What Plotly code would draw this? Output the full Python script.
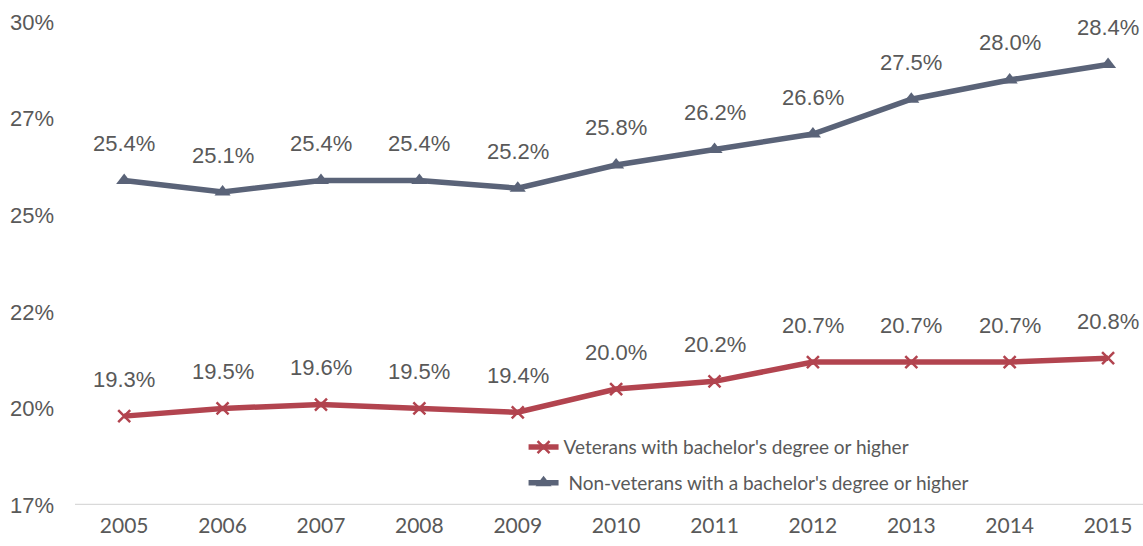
import plotly.graph_objects as go

years = [2005, 2006, 2007, 2008, 2009, 2010, 2011, 2012, 2013, 2014, 2015]
veterans = [19.3, 19.5, 19.6, 19.5, 19.4, 20.0, 20.2, 20.7, 20.7, 20.7, 20.8]
non_veterans = [25.4, 25.1, 25.4, 25.4, 25.2, 25.8, 26.2, 26.6, 27.5, 28.0, 28.4]
y_tickvals = [17, 19.5, 22, 24.5, 27, 29.5]
y_ticktext = ["17%", "20%", "22%", "25%", "27%", "30%"]

RED = "#B2444F"
NAVY = "#5A6378"
TXT = "#595959"

fig = go.Figure()
fig.add_trace(go.Scatter(
    x=years, y=veterans, mode="lines+markers",
    name="Veterans with bachelor's degree or higher", legendgroup="a",
    line=dict(color=RED, width=5.5),
    marker=dict(symbol="x-thin", size=12, line=dict(color=RED, width=2.5), color=RED),
))
fig.add_trace(go.Scatter(
    x=years, y=non_veterans, mode="lines+markers",
    name=" Non-veterans with a bachelor's degree or higher", legendgroup="b",
    line=dict(color=NAVY, width=5.5),
    marker=dict(symbol="triangle-up", size=14, color=NAVY),
))

for series in (veterans, non_veterans):
    for xv, yv in zip(years, series):
        fig.add_annotation(x=xv, y=yv, text=f"{yv:.1f}%", showarrow=False,
                           yshift=37, font=dict(family="Liberation Sans, Arial", size=22, color=TXT))

fig.update_layout(
    width=1143, height=546,
    margin=dict(l=75, r=0, t=22, b=41, autoexpand=False),
    paper_bgcolor="white", plot_bgcolor="white",
    showlegend=True,
    legend=dict(x=0.42, y=0.159, xanchor="left", yanchor="top",
                bgcolor="rgba(0,0,0,0)", font=dict(family="Lato", size=19, color=TXT),
                traceorder="grouped", tracegroupgap=8),
    xaxis=dict(range=[2004.5, 2015.355], tickmode="array", tickvals=years,
               showgrid=False, zeroline=False, showline=False, ticks="", automargin=False,
               ticklabelstandoff=6,
               tickfont=dict(family="Lato", size=21, color=TXT)),
    yaxis=dict(range=[17, 29.5], tickmode="array", tickvals=y_tickvals, ticktext=y_ticktext,
               showgrid=False, zeroline=False, showline=False, ticks="", automargin=False,
               ticklabelstandoff=20,
               tickfont=dict(family="Liberation Sans, Arial", size=22, color=TXT)),
)
fig.add_shape(type="line", xref="paper", yref="y", x0=0, x1=1, y0=17, y1=17,
              line=dict(color="#D9D9D9", width=2.5), layer="below")

fig.write_html("out.html", config={"displayModeBar": False},
               post_script="document.body.style.margin='0px';document.body.style.overflow='hidden';")
